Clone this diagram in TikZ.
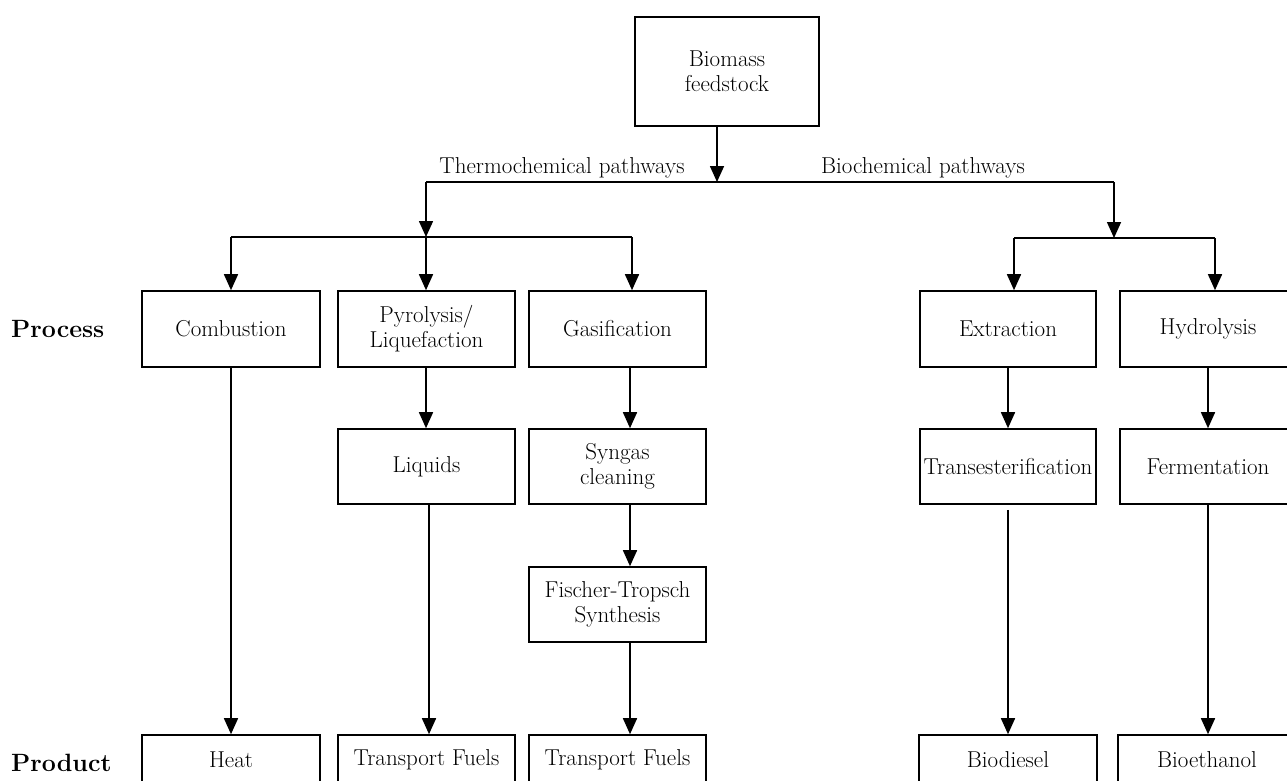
\documentclass[tikz,border=0pt]{standalone}
\usepackage{fontspec}
\usetikzlibrary{arrows.meta}
\begin{document}
\begin{tikzpicture}[x=1pt,y=-1pt,
  box/.style={draw, line width=1.6pt, rectangle, inner sep=0pt, minimum width=177pt, minimum height=76pt, align=center, font=\fontsize{23}{25}\selectfont},
  prod/.style={box, minimum height=50pt},
  arr/.style={line width=1.6pt, -{Triangle[length=16pt,width=14pt]}},
  ln/.style={line width=1.6pt},
  lbl/.style={font=\fontsize{23}{25}\selectfont, inner sep=0pt},
  head/.style={font=\bfseries\fontsize{25}{30}\selectfont, inner sep=0pt}]
\useasboundingbox (0,0) rectangle (1287,781);
\fill[white] (0,0) rectangle (1287,781);
\clip (0,0) rectangle (1287,781);

% boxes
\node[box, minimum width=184pt, minimum height=109pt] (bio) at (727,71.5) {Biomass\\feedstock};
\node[box, minimum width=178pt] (comb) at (231,329) {Combustion};
\node[box] (pyro) at (426.5,329) {Pyrolysis/\\Liquefaction};
\node[box] (gasi) at (617.5,329) {Gasification};
\node[box, minimum width=176pt] (extr) at (1008,329) {Extraction};
\node[box, minimum width=176pt] (hydr) at (1208,329) {Hydrolysis};

\node[box, minimum height=75pt] (liq) at (426.5,466.5) {Liquids};
\node[box, minimum height=75pt] (syn) at (617.5,466.5) {Syngas\\cleaning};
\node[box, minimum height=75pt, minimum width=176pt] (trans) at (1008,466.5) {Transesterification};
\node[box, minimum height=75pt, minimum width=176pt] (ferm) at (1208,466.5) {Fermentation};
\node[box, minimum height=75pt] (ft) at (617.5,604.5) {Fischer-Tropsch\\Synthesis};

\node[prod, minimum width=178pt] (heat) at (231,760) {Heat};
\node[prod] (tf1) at (426.5,760) {Transport Fuels};
\node[prod] (tf2) at (617.5,760) {Transport Fuels};
\node[prod, minimum width=178pt] (biod) at (1008,760) {Biodiesel};
\node[prod, minimum width=178pt] (bioe) at (1207,760) {Bioethanol};

% labels
\node[head, anchor=west] (proc) at (11,329) {Process};
\node[head, anchor=west] (prodl) at (11,763) {Product};
\node[lbl] (thl) at (562,168) {Thermochemical pathways};
\node[lbl] (bcl) at (923,168) {Biochemical pathways};

% junctions
\coordinate (j0) at (717,182);
\coordinate (t0) at (426,182);
\coordinate (t1) at (426,237);
\coordinate (b0) at (1114,182);
\coordinate (b1) at (1114,238);
\coordinate (tl) at (231,237);
\coordinate (tr) at (632,237);
\coordinate (bl) at (1014,238);
\coordinate (br) at (1215,238);
\coordinate (lx) at (429,0);
\coordinate (gx) at (630,0);

% connectors
\draw[arr] (bio.south -| j0) -- (j0);
\draw[ln] (t0) -- (b0);
\draw[arr] (t0) -- (t1);
\draw[arr] (b0) -- (b1);
\draw[ln] (tl) -- (tr);
\draw[ln] (bl) -- (br);
\draw[arr] (tl) -- (comb.north -| tl);
\draw[arr] (t1) -- (pyro.north -| t1);
\draw[arr] (tr) -- (gasi.north -| tr);
\draw[arr] (bl) -- (extr.north -| bl);
\draw[arr] (br) -- (hydr.north -| br);

\draw[arr] (comb) -- (heat);
\draw[arr] (pyro.south -| t1) -- (liq.north -| t1);
\draw[arr] (liq.south -| lx) -- (tf1.north -| lx);
\draw[arr] (gasi.south -| gx) -- (syn.north -| gx);
\draw[arr] (syn.south -| gx) -- (ft.north -| gx);
\draw[arr] (ft.south -| gx) -- (tf2.north -| gx);
\draw[arr] (extr) -- (trans);
\draw[arr] ([yshift=-5pt]trans.south) -- (biod.north);
\draw[arr] (hydr) -- (ferm);
\draw[arr] (ferm.south) -- (bioe.north -| ferm.south);
\end{tikzpicture}
\end{document}
